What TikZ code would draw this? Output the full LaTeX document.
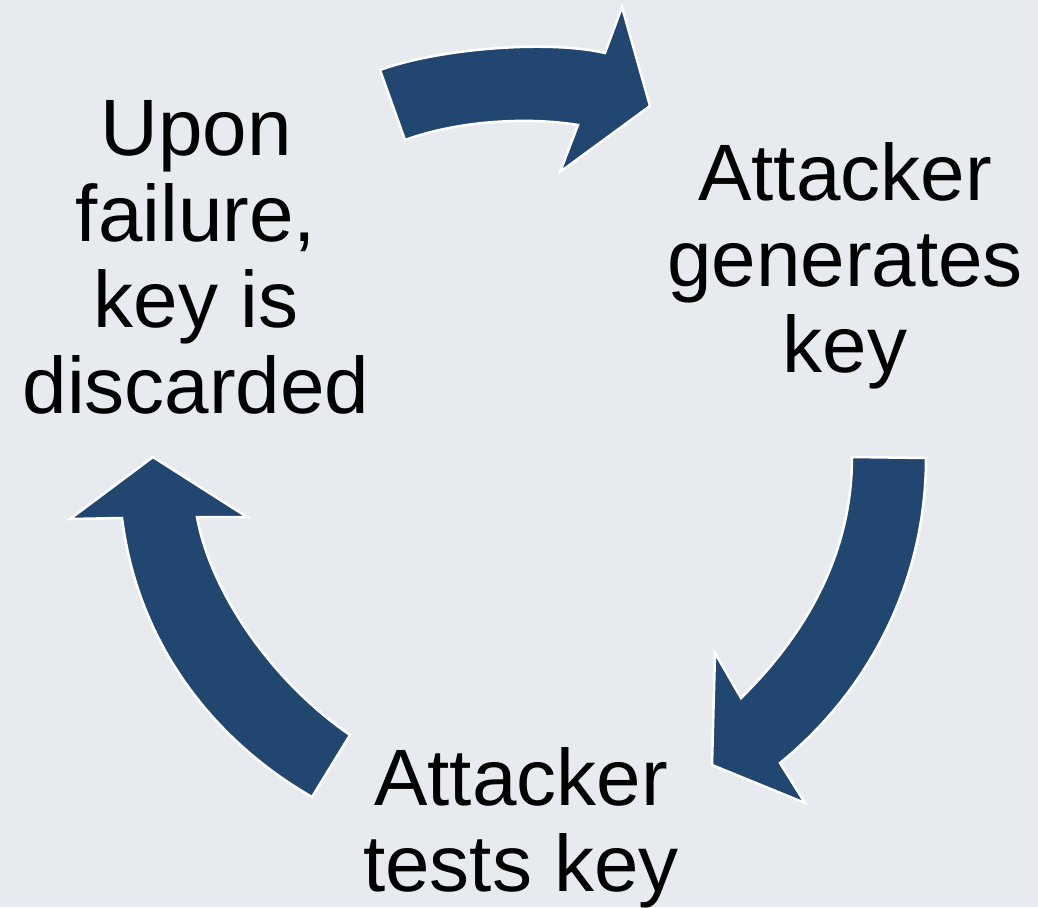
\documentclass[tikz,border=0pt]{standalone}
\usepackage{fontspec}
\setmainfont{Liberation Sans}
\definecolor{bgGrey}{HTML}{E7EBEF}
\definecolor{arrowBlue}{HTML}{21466F}

\begin{document}
\begin{tikzpicture}[x=1pt,y=-1pt,
  cyclearrow/.style={fill=arrowBlue,draw=white,line width=2.5pt,line join=miter},
  steptext/.style={align=center,inner sep=0pt,anchor=north,font=\fontsize{80}{86}\selectfont}]
  % Background
  \fill[bgGrey] (0,0) rectangle (1038,907);
  \useasboundingbox (0,0) rectangle (1038,907);

  % Steps
  \node[steptext] (fail) at (196,100) {Upon\\failure,\\key is\\discarded};
  \node[steptext] (gen) at (845,142) {Attacker\\generates\\key};
  \node[steptext] (test) at (521,747) {Attacker\\tests key};

  % Arrow to generating
  \draw[cyclearrow] (380,70) .. controls (440,48) and (550,40) .. (605,53)
    -- (622,7) -- (650,106) -- (560,172) -- (578,125)
    .. controls (530,117) and (460,120) .. (405,140) -- cycle;

  % Arrow to testing
  \draw[cyclearrow] (926,458) -- (852,457)
    .. controls (852,560) and (800,640) .. (741,698)
    -- (715,653) -- (712,765) -- (805,803) -- (780,763)
    .. controls (870,690) and (926,580) .. (926,458) -- cycle;

  % Arrow to discarding
  \draw[cyclearrow] (312,797) -- (350,735)
    .. controls (270,680) and (210,590) .. (197,517)
    -- (247,517) -- (153,457) -- (70,519) -- (122,518)
    .. controls (140,660) and (230,750) .. (312,797) -- cycle;
\end{tikzpicture}
\end{document}
